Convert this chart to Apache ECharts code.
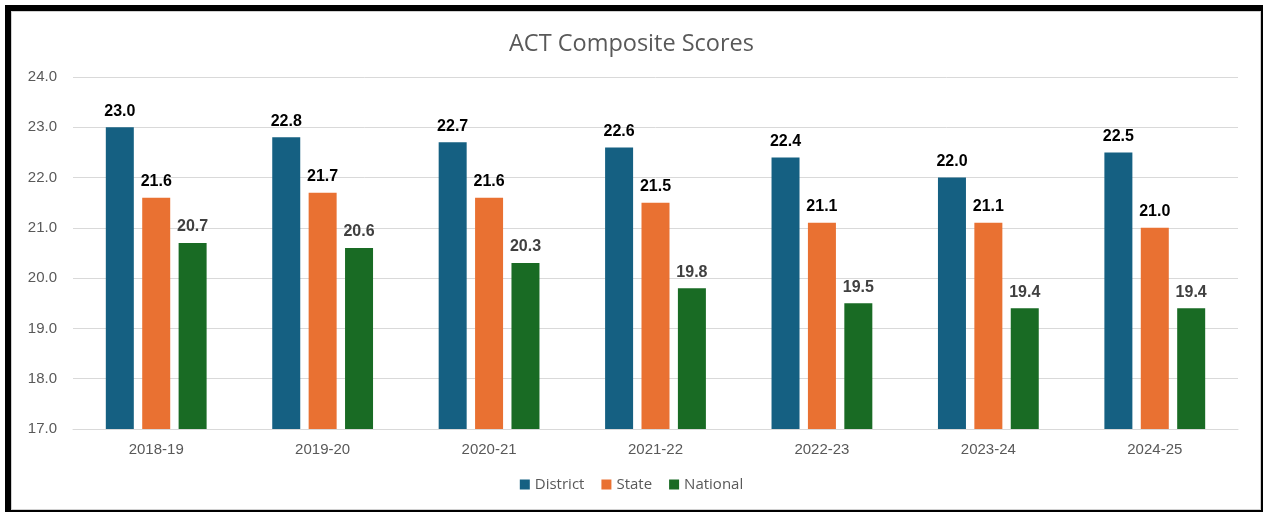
<!DOCTYPE html>
<html>
<head>
<meta charset="utf-8">
<script src="https://cdn.jsdelivr.net/npm/echarts@6/dist/echarts.min.js"></script>
<style>
  html, body { margin: 0; padding: 0; background: #fff; }
  #chart { position: absolute; left: 0; top: 0; width: 1263px; height: 512px; }
  #frame { position: absolute; left: 5px; top: 5px; width: 1250px; height: 499px;
           border-left: 6px solid #000; border-top: 6px solid #000;
           border-right: 4px solid #000; border-bottom: 4px solid #000; pointer-events: none; }
  #inner { position: absolute; left: 0; top: 0; right: 0; bottom: 0; border: 1px solid #d0d0d0; }
</style>
</head>
<body>
<div id="chart"></div>
<div id="frame"><div id="inner"></div></div>
<script>
const title = 'ACT Composite Scores';
const categories = ['2018-19', '2019-20', '2020-21', '2021-22', '2022-23', '2023-24', '2024-25'];
const district = [23.0, 22.8, 22.7, 22.6, 22.4, 22.0, 22.5];
const state = [21.6, 21.7, 21.6, 21.5, 21.1, 21.1, 21.0];
const national = [20.7, 20.6, 20.3, 19.8, 19.5, 19.4, 19.4];
const seriesNames = ['District', 'State', 'National'];
const colors = ['#156082', '#E97132', '#196B24'];
const labelColors = ['#000000', '#000000', '#404040'];

const chart = echarts.init(document.getElementById('chart'));
const mk = (name, data, color, lc) => ({
  name, type: 'bar', data, barWidth: 28, barGap: '30%',
  itemStyle: { color },
  label: {
    show: true, position: 'top', distance: 8,
    fontFamily: 'Liberation Sans', fontWeight: 'bold', fontSize: 16, color: lc,
    formatter: p => p.value.toFixed(1)
  }
});
chart.setOption({
  animation: false,
  title: {
    text: title, left: 'center', top: 27,
    textStyle: { fontFamily: 'Open Sans', fontWeight: 'normal', fontSize: 23.5, color: '#595959' }
  },
  legend: {
    data: seriesNames, top: 472, left: 'center', itemWidth: 10, itemHeight: 10, itemGap: 17,
    icon: 'rect',
    textStyle: { fontFamily: 'Open Sans', fontSize: 15, color: '#595959' }
  },
  grid: { left: 73, right: 25, top: 77, bottom: 83, containLabel: false },
  xAxis: {
    type: 'category', data: categories,
    axisLine: { lineStyle: { color: '#d9d9d9', width: 1 } },
    axisTick: { show: false },
    axisLabel: { fontFamily: 'Liberation Sans', fontSize: 15, color: '#595959', margin: 13 }
  },
  yAxis: {
    type: 'value', min: 17, max: 24, interval: 1,
    axisLine: { show: false }, axisTick: { show: false },
    splitLine: { lineStyle: { color: '#d9d9d9', width: 1 } },
    axisLabel: { fontFamily: 'Liberation Sans', fontSize: 15, color: '#595959', margin: 16,
                 formatter: v => v.toFixed(1) }
  },
  series: [
    mk(seriesNames[0], district, colors[0], labelColors[0]),
    mk(seriesNames[1], state, colors[1], labelColors[1]),
    mk(seriesNames[2], national, colors[2], labelColors[2])
  ]
});
</script>
</body>
</html>
